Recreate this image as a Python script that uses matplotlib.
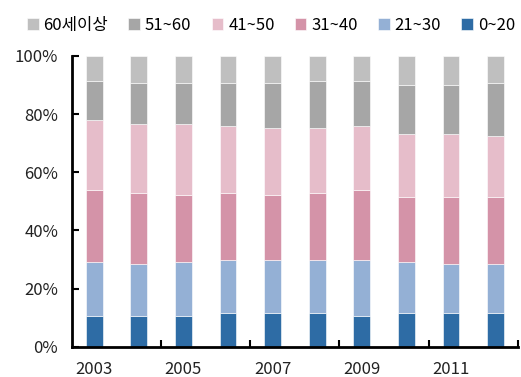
import numpy as np
import matplotlib
matplotlib.use("Agg")
import matplotlib.pyplot as plt

plt.rcParams['font.family'] = ['Noto Sans CJK KR', 'DejaVu Sans']

years = [2003, 2004, 2005, 2006, 2007, 2008, 2009, 2010, 2011, 2012]
tick_years = ['2003', '', '2005', '', '2007', '', '2009', '', '2011', '']

# cumulative tops (%)
top_0_20 = [10.7, 10.7, 10.7, 11.5, 11.5, 11.5, 10.7, 11.5, 11.5, 11.5]
top_21_30 = [29.1, 28.4, 29.1, 29.8, 29.8, 29.8, 29.8, 29.1, 28.4, 28.4]
top_31_40 = [53.8, 52.8, 52.0, 52.8, 52.0, 52.8, 54.0, 51.4, 51.4, 51.4]
top_41_50 = [77.9, 76.5, 76.5, 75.8, 75.2, 75.2, 75.8, 73.1, 73.1, 72.4]
top_51_60 = [91.4, 90.7, 90.7, 90.7, 90.7, 91.4, 91.4, 90.0, 90.0, 90.7]

tops = [top_0_20, top_21_30, top_31_40, top_41_50, top_51_60, [100.0] * 10]
labels = ['0~20', '21~30', '31~40', '41~50', '51~60', '60세이상']
colors = ['#2e6ca5', '#94b0d5', '#d493a8', '#e6bdca', '#a6a6a6', '#bfbfbf']

fig = plt.figure(figsize=(5.21, 3.77), dpi=100)
ax = fig.add_axes([0.138, 0.080, 0.856, 0.772])

x = np.arange(len(years))
prev = np.zeros(len(years))
handles = []
for top, lab, col in zip(tops, labels, colors):
    top = np.array(top)
    h = ax.bar(x, top - prev, bottom=prev, width=0.38, color=col,
               edgecolor='white', linewidth=0.4, label=lab)
    handles.append(h)
    prev = top

ax.set_xlim(-0.5, len(years) - 0.5)
ax.set_ylim(0, 100)
ax.set_yticks(range(0, 101, 20))
ax.set_yticklabels([f'{v}%' for v in range(0, 101, 20)], fontsize=12, color='#222222')
ax.set_xticks(x)
ax.set_xticklabels(tick_years, fontsize=12, color='#222222')
ax.tick_params(axis='x', length=0, pad=10)
ax.set_xticks(np.arange(1.5, len(years), 2), minor=True)
ax.tick_params(axis='x', which='minor', direction='in', length=5, width=1.5)
ax.tick_params(axis='y', direction='in', length=5, width=1.5, pad=10)

for s in ['top', 'right']:
    ax.spines[s].set_visible(False)
for s in ['left', 'bottom']:
    ax.spines[s].set_linewidth(2)

fig.legend(handles[::-1], labels[::-1], loc='upper center', ncol=6,
           bbox_to_anchor=(0.52, 0.995), frameon=False, fontsize=12,
           handlelength=0.7, handleheight=0.7, handletextpad=0.3,
           columnspacing=1.2)

fig.savefig('out.png', dpi=100)
